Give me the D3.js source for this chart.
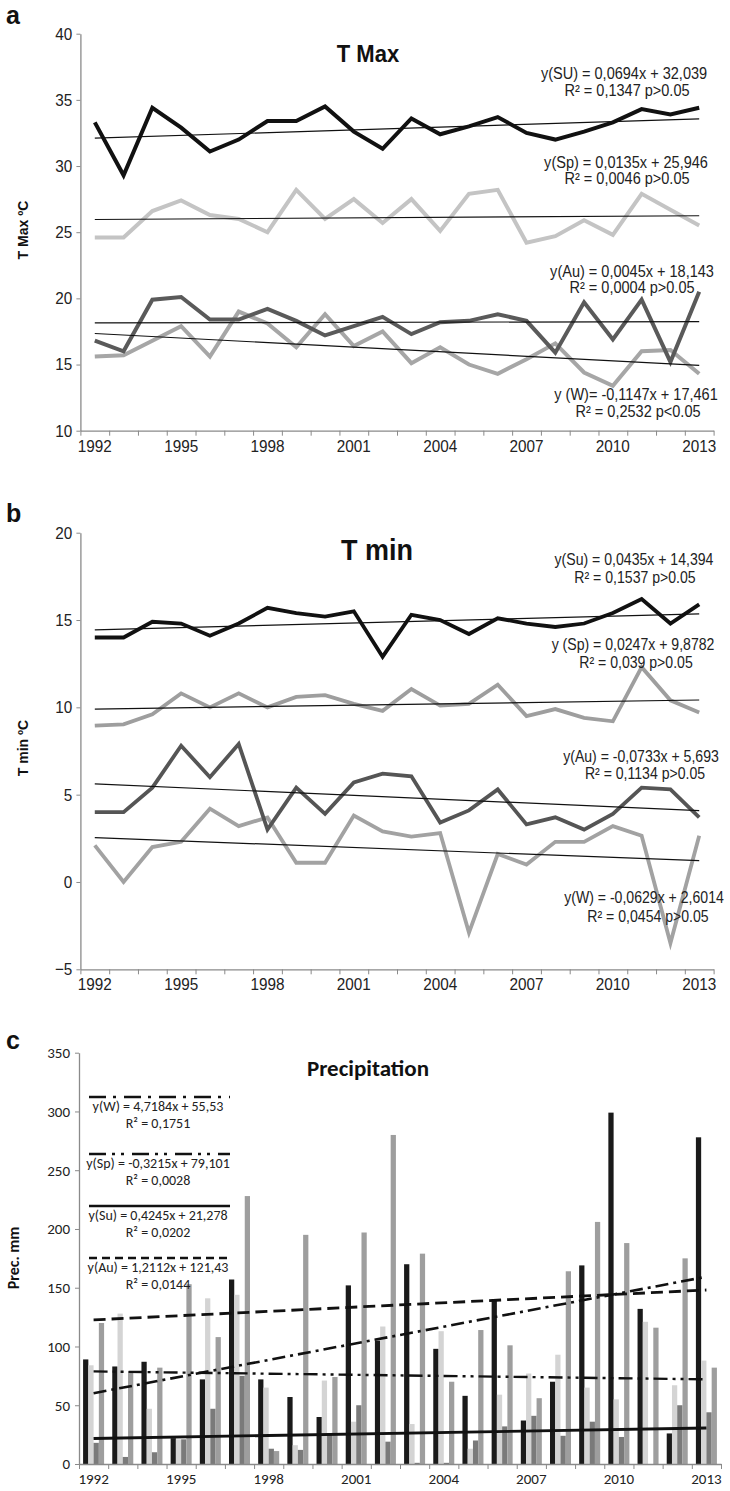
<!DOCTYPE html>
<html><head><meta charset="utf-8">
<script src="https://cdn.jsdelivr.net/npm/d3@7"></script>
<style>
body{margin:0;background:#fff;}
svg{display:block;}
</style></head>
<body><svg id="chart" width="730" height="1491"></svg>
<script>
// ---------- DATA ----------
const years = [1992,1993,1994,1995,1996,1997,1998,1999,2000,2001,2002,2003,2004,2005,2006,2007,2008,2009,2010,2011,2012,2013];
const tickYears = [1992,1995,1998,2001,2004,2007,2010,2013];

// Panel a: T Max (ºC)
const tmaxSU = [33.3,29.3,34.4,32.9,31.1,32.0,33.4,33.4,34.5,32.6,31.3,33.6,32.4,33.0,33.7,32.5,32.0,32.6,33.3,34.3,33.9,34.4];
const tmaxSp = [24.6,24.6,26.6,27.4,26.3,26.0,25.0,28.2,26.0,27.5,25.7,27.5,25.1,27.9,28.2,24.2,24.7,25.9,24.8,27.9,26.7,25.5];
const tmaxAu = [16.8,16.0,19.9,20.1,18.4,18.4,19.2,18.3,17.2,17.9,18.6,17.3,18.2,18.3,18.8,18.3,15.9,19.7,16.9,19.9,15.2,20.5];
const tmaxW  = [15.6,15.7,16.8,17.9,15.6,19.0,18.1,16.3,18.8,16.4,17.5,15.1,16.3,15.0,14.3,15.4,16.6,14.4,13.4,16.0,16.1,14.3];
const tmaxSlope = [0.0694, 0.0135, 0.0045, -0.1147];
const tmaxIntercept = [32.039, 25.946, 18.143, 17.461];
const tmaxEq = ["y(SU) = 0,0694x + 32,039","y(Sp) = 0,0135x + 25,946","y(Au) = 0,0045x + 18,143","y (W)= -0,1147x + 17,461"];
const tmaxR2 = ["R² = 0,1347  p>0.05","R² = 0,0046  p>0.05","R² = 0,0004  p>0.05","R² = 0,2532   p<0.05"];
const tmaxTicks = [10,15,20,25,30,35,40];

// Panel b: T min (ºC)
const tminSu = [14.0,14.0,14.9,14.8,14.1,14.8,15.7,15.4,15.2,15.5,12.9,15.3,15.0,14.2,15.1,14.8,14.6,14.8,15.4,16.2,14.8,15.9];
const tminSp = [8.95,9.03,9.6,10.8,10.0,10.8,10.0,10.6,10.7,10.2,9.8,11.05,10.1,10.2,11.3,9.5,9.9,9.4,9.2,12.3,10.4,9.7];
const tminAu = [4.0,4.0,5.4,7.8,6.0,7.9,3.0,5.4,3.9,5.7,6.2,6.05,3.4,4.1,5.3,3.3,3.7,3.0,3.9,5.4,5.3,3.7];
const tminW  = [2.1,0.0,2.0,2.3,4.2,3.2,3.7,1.1,1.1,3.8,2.9,2.6,2.8,-2.9,1.6,1.0,2.3,2.3,3.2,2.65,-3.5,2.65];
const tminSlope = [0.0435, 0.0247, -0.0733, -0.0629];
const tminIntercept = [14.394, 9.8782, 5.693, 2.6014];
const tminEq = ["y(Su) = 0,0435x + 14,394","y (Sp) = 0,0247x + 9,8782","y(Au) = -0,0733x + 5,693","y(W) = -0,0629x + 2,6014"];
const tminR2 = ["R² = 0,1537 p>0.05","R² = 0,039 p>0.05","R² = 0,1134 p>0.05","R² = 0,0454 p>0.05"];
const tminTicks = [-5,0,5,10,15,20];

// Panel c: Precipitation (mm)
const precSeries = ["W","Sp","Su","Au"];
const precW  = [89,83,87,22,72,157,72,57,40,152,105,170,98,58,140,37,70,169,299,132,26,278];
const precSp = [84,128,47,21,141,144,65,16,71,36,117,34,113,13,59,77,93,65,55,121,67,88];
const precSu = [18,6,10,21,47,75,13,12,26,50,19,1,1,20,32,41,24,36,23,0,50,44];
const precAu = [120,79,82,153,108,228,11,195,74,197,280,179,70,114,101,56,164,206,188,116,175,82];
const precSlope = [4.7184, -0.3215, 0.4245, 1.2112];
const precIntercept = [55.53, 79.101, 21.278, 121.43];
const precEq = ["y(W) = 4,7184x + 55,53","y(Sp) = -0,3215x + 79,101","y(Su) = 0,4245x + 21,278","y(Au) = 1,2112x + 121,43"];
const precR2 = ["R² = 0,1751","R² = 0,0028","R² = 0,0202","R² = 0,0144"];
const precTicks = [0,50,100,150,200,250,300,350];

// ---------- STYLE ----------
const NARROW = "'Liberation Sans Narrow','Arial Narrow','Liberation Sans',Arial,sans-serif";
const ARIAL = "'Liberation Sans',Arial,sans-serif";
const CALI = "Carlito,Calibri,Lato,sans-serif";
const AXIS = "#8a8a8a";
const SX = 0.88; // horizontal condensing for narrow text

const svg = d3.select("#chart");

function panelLetter(t, x, y){
  svg.append("text").attr("x",x).attr("y",y).text(t)
    .attr("font-family",ARIAL).attr("font-weight","bold").attr("font-size",25).attr("fill","#111");
}

function ntext(x, y, t, size, opts={}){
  const el = svg.append("text").attr("transform",`translate(${x},${y}) scale(${opts.sx||SX},1)`)
    .attr("text-anchor",opts.anchor||"middle").attr("font-family",NARROW)
    .attr("font-size",size).attr("fill",opts.fill||"#222").text(t);
  if (opts.bold) el.attr("font-weight","bold");
  return el;
}

function xAxisBand(g, x, yPos, font, fsize, labelDy, sx){
  const n = years.length;
  const lin = d3.scaleLinear().domain([0,n]).range(x.range());
  const ax = g.append("g").attr("transform",`translate(0,${yPos})`)
    .call(d3.axisBottom(lin).tickValues(d3.range(n+1)).tickSize(5).tickSizeOuter(0).tickFormat(""));
  ax.select(".domain").attr("stroke",AXIS).attr("stroke-width",1.3);
  ax.selectAll(".tick line").attr("stroke",AXIS);
  const lab = g.append("g").attr("transform",`translate(0,${yPos})`)
    .call(d3.axisBottom(x).tickValues(tickYears).tickSize(0).tickPadding(labelDy));
  lab.select(".domain").remove();
  lab.selectAll("text").attr("font-family",font).attr("font-size",fsize).attr("fill","#222");
  if (sx) lab.selectAll("text").attr("transform",`scale(${sx},1)`);
}

function yAxis(g, y, xPos, ticks, font, fsize, sx){
  const ax = g.append("g").attr("transform",`translate(${xPos},0)`)
    .call(d3.axisLeft(y).tickValues(ticks).tickSize(4).tickSizeOuter(0).tickPadding(5));
  ax.select(".domain").attr("stroke",AXIS).attr("stroke-width",1.3);
  ax.selectAll(".tick line").attr("stroke",AXIS);
  ax.selectAll("text").attr("font-family",font).attr("font-size",fsize).attr("fill","#222");
  if (sx) ax.selectAll("text").attr("transform",`scale(${sx},1)`);
}

function rotLabel(t, x, y, font, fsize){
  svg.append("text").attr("transform",`translate(${x},${y}) rotate(-90)`)
    .attr("text-anchor","middle").text(t)
    .attr("font-family",font).attr("font-weight","bold").attr("font-size",fsize).attr("fill","#111");
}

function eqLabels(eqs, r2s, pos, size){
  eqs.forEach((e,i)=>{
    ntext(pos[i][0], pos[i][1], e, size);
    ntext(pos[i][2], pos[i][3], r2s[i], size);
  });
}

// ---------- PANEL A ----------
(function(){
  const g = svg.append("g");
  const x = d3.scaleBand().domain(years).range([80.4,713.6]);
  const y = d3.scaleLinear().domain([10,40]).range([430.7,33.7]);
  const cx = d => x(d) + x.bandwidth()/2;
  const line = d3.line().x((d,i)=>cx(years[i])).y(d=>y(d));
  const series = [[tmaxSU,"#111111"],[tmaxSp,"#c4c4c4"],[tmaxW,"#a6a6a6"],[tmaxAu,"#5a5a5a"]];
  series.forEach(([d,c])=>{
    g.append("path").attr("d",line(d)).attr("fill","none").attr("stroke",c)
      .attr("stroke-width",4).attr("stroke-linejoin","miter");
  });
  tmaxSlope.forEach((a,i)=>{
    const b = tmaxIntercept[i];
    g.append("line").attr("x1",cx(years[0])).attr("x2",cx(years[years.length-1]))
      .attr("y1",y(a*1+b)).attr("y2",y(a*years.length+b)).attr("stroke","#111").attr("stroke-width",1.2);
  });
  yAxis(g, y, 80.4, tmaxTicks, NARROW, 17, 0.9);
  xAxisBand(g, x, 430.7, NARROW, 17, 9, 0.9);
  ntext(368, 62, "T Max", 24, {bold:true, fill:"#111", sx:0.92});
  rotLabel("T Max ºC", 28, 230, ARIAL, 14);
  eqLabels(tmaxEq, tmaxR2, [[624,79,627,96],[626,168,627,184],[632,277,632,293],[636,400,638,417]], 16.5);
  panelLetter("a", 6, 24);
})();

// ---------- PANEL B ----------
(function(){
  const g = svg.append("g");
  const x = d3.scaleBand().domain(years).range([80.4,713.6]);
  const y = d3.scaleLinear().domain([-5,20]).range([969.3,532.7]);
  const cx = d => x(d) + x.bandwidth()/2;
  const line = d3.line().x((d,i)=>cx(years[i])).y(d=>y(d));
  const series = [[tminSu,"#111111"],[tminSp,"#9e9e9e"],[tminW,"#a2a2a2"],[tminAu,"#555555"]];
  series.forEach(([d,c])=>{
    g.append("path").attr("d",line(d)).attr("fill","none").attr("stroke",c)
      .attr("stroke-width",3.8).attr("stroke-linejoin","miter");
  });
  tminSlope.forEach((a,i)=>{
    const b = tminIntercept[i];
    g.append("line").attr("x1",cx(years[0])).attr("x2",cx(years[years.length-1]))
      .attr("y1",y(a*1+b)).attr("y2",y(a*years.length+b)).attr("stroke","#111").attr("stroke-width",1.2);
  });
  yAxis(g, y, 80.4, tminTicks, NARROW, 17, 0.9);
  xAxisBand(g, x, 969.3, NARROW, 17, 9, 0.9);
  ntext(377, 560, "T min", 30, {bold:true, fill:"#111", sx:0.9});
  rotLabel("T min ºC", 28, 748, ARIAL, 14);
  eqLabels(tminEq, tminR2, [[634,565,635,583],[633,650,636,668],[641,762,645,779],[644,903,648,922]], 16);
  panelLetter("b", 6, 522);
})();

// ---------- PANEL C ----------
(function(){
  const g = svg.append("g");
  const x0 = d3.scaleBand().domain(years).range([79,721]).paddingInner(0.28).paddingOuter(0.14);
  const x1 = d3.scaleBand().domain(precSeries).range([0,x0.bandwidth()]);
  const y = d3.scaleLinear().domain([0,350]).range([1464,1052.7]);
  const data = {W:precW, Sp:precSp, Su:precSu, Au:precAu};
  const colors = {W:"#1a1a1a", Sp:"#d4d4d4", Su:"#7a7a7a", Au:"#9e9e9e"};
  precSeries.forEach(s=>{
    g.selectAll(null).data(data[s]).enter().append("rect")
      .attr("x",(d,i)=>x0(years[i]) + x1(s))
      .attr("width",x1.bandwidth())
      .attr("y",d=>y(d)).attr("height",d=>y(0)-y(d))
      .attr("fill",colors[s]);
  });
  const cx = d => x0(d) + x0.bandwidth()/2;
  const dashes = ["13,5,3,5","14,5,3,5,3,5",null,"12,6"];
  const widths = [2.6,2.4,2.8,2.8];
  precSlope.forEach((a,i)=>{
    const b = precIntercept[i];
    const ln = g.append("line").attr("x1",cx(years[0])).attr("x2",cx(years[years.length-1]))
      .attr("y1",y(a*1+b)).attr("y2",y(a*years.length+b)).attr("stroke","#111").attr("stroke-width",widths[i]);
    if (dashes[i]) ln.attr("stroke-dasharray",dashes[i]);
  });
  yAxis(g, y, 79, precTicks, CALI, 15);
  xAxisBand(g, x0, 1464, CALI, 15, 9);
  // equation block
  const legY = [1097, 1154, 1206, 1258];
  const legDash = ["17,7,3,8","17,6,3,6,3,8",null,"8,5"];
  legY.forEach((ly,i)=>{
    const l = svg.append("line").attr("x1",89).attr("x2",230).attr("y1",ly).attr("y2",ly)
      .attr("stroke","#111").attr("stroke-width",2.6);
    if (legDash[i]) l.attr("stroke-dasharray",legDash[i]);
    svg.append("text").attr("x",158).attr("y",ly+14).attr("text-anchor","middle")
      .attr("font-family",CALI).attr("font-size",14).attr("fill","#222").text(precEq[i]);
    svg.append("text").attr("x",158).attr("y",ly+31).attr("text-anchor","middle")
      .attr("font-family",CALI).attr("font-size",14).attr("fill","#222").text(precR2[i]);
  });
  svg.append("text").attr("x",368).attr("y",1076).attr("text-anchor","middle").text("Precipitation")
    .attr("font-family",CALI).attr("font-weight","bold").attr("font-size",23).attr("fill","#111");
  rotLabel("Prec. mm", 19, 1258, CALI, 16);
  panelLetter("c", 6, 1049);
})();
</script></body></html>
